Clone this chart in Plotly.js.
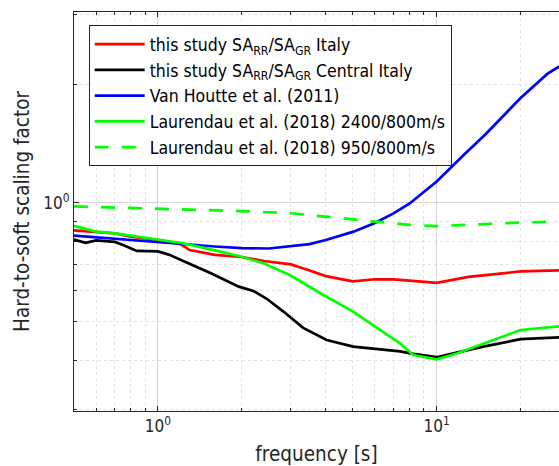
<!DOCTYPE html>
<html>
<head>
<meta charset="utf-8">
<script src="https://cdn.plot.ly/plotly-3.0.1.min.js"></script>
<style>html,body{margin:0;padding:0;background:#fff;overflow:hidden}#chart{width:559px;height:466px}</style>
</head>
<body>
<div id="chart"></div>
<script>
// Series names
var seriesNames = [
  "this study SA<sub>RR</sub>/SA<sub>GR</sub> Italy",
  "this study SA<sub>RR</sub>/SA<sub>GR</sub> Central Italy",
  "Van Houtte et al. (2011)",
  "Laurendau et al. (2018) 2400/800m/s",
  "Laurendau et al. (2018) 950/800m/s"
];

// Red: this study Italy
var freqItaly = [0.5, 0.6, 0.7, 0.8, 1.0, 1.2, 1.3, 1.6, 2.0, 2.4, 3.0, 3.5, 4.0, 5.0, 6.0, 7.0, 10.0, 13.0, 20.0, 30.0];
var valItaly  = [0.852, 0.845, 0.838, 0.822, 0.806, 0.788, 0.760, 0.739, 0.730, 0.713, 0.699, 0.675, 0.653, 0.633, 0.641, 0.641, 0.628, 0.650, 0.671, 0.676];

// Black: this study Central Italy
var freqCentral = [0.5, 0.55, 0.6, 0.7, 0.75, 0.84, 1.0, 1.1, 1.25, 1.55, 1.95, 2.2, 2.45, 2.82, 3.32, 4.03, 5.02, 6.26, 7.39, 8.24, 10.0, 11.8, 14.7, 20.0, 30.0];
var valCentral  = [0.808, 0.793, 0.804, 0.797, 0.783, 0.756, 0.754, 0.739, 0.710, 0.664, 0.614, 0.599, 0.573, 0.531, 0.483, 0.450, 0.433, 0.427, 0.421, 0.415, 0.407, 0.418, 0.433, 0.452, 0.458];

// Blue: Van Houtte et al. (2011)
var freqVH = [0.5, 0.6, 0.7, 0.8, 1.0, 1.3, 1.6, 2.0, 2.5, 3.0, 3.5, 4.0, 5.0, 6.0, 7.0, 8.0, 10.0, 12.5, 15.0, 20.0, 25.0, 30.0];
var valVH  = [0.827, 0.819, 0.812, 0.809, 0.799, 0.785, 0.776, 0.769, 0.767, 0.776, 0.787, 0.806, 0.845, 0.890, 0.941, 0.997, 1.133, 1.323, 1.495, 1.844, 2.125, 2.30];

// Green solid: Laurendau et al. (2018) 2400/800m/s
var freqL2400 = [0.5, 0.6, 0.7, 0.8, 1.0, 1.2, 1.536, 1.95, 2.39, 2.97, 3.92, 5.02, 6.26, 7.39, 8.24, 10.0, 11.8, 14.7, 20.0, 30.0];
var valL2400  = [0.875, 0.846, 0.838, 0.826, 0.806, 0.793, 0.764, 0.734, 0.704, 0.657, 0.585, 0.531, 0.477, 0.441, 0.412, 0.402, 0.416, 0.441, 0.477, 0.490];

// Green dashed: Laurendau et al. (2018) 950/800m/s
var freqL950 = [0.5, 0.7, 1.0, 1.5, 2.0, 3.0, 4.0, 5.0, 6.0, 8.0, 10.0, 15.0, 20.0, 30.0];
var valL950  = [0.980, 0.974, 0.968, 0.960, 0.954, 0.942, 0.924, 0.908, 0.897, 0.880, 0.874, 0.885, 0.892, 0.899];

// Tick labels
var xTickVals = [1, 10];
var xTickText = ["10<sup>0</sup>", "10<sup>1</sup>"];
var yTickVals = [1];
var yTickText = ["10<sup>0</sup>"];
var xMinorVals = [0.5, 0.6, 0.7, 0.8, 0.9, 2, 3, 4, 5, 6, 7, 8, 9, 20, 30];
var yMinorVals = [0.3, 0.4, 0.5, 0.6, 0.7, 0.8, 0.9, 2, 3];

var xTitle = "frequency [s]";
var yTitle = "Hard-to-soft scaling factor";

var colors = ["#ff0000", "#000000", "#0000ff", "#00ff00", "#00ff00"];
var xs = [freqItaly, freqCentral, freqVH, freqL2400, freqL950];
var ys = [valItaly, valCentral, valVH, valL2400, valL950];

var traces = [];
for (var i = 0; i < 5; i++) {
  traces.push({
    x: xs[i], y: ys[i], type: "scatter", mode: "lines", name: seriesNames[i],
    line: {color: colors[i], width: 2.7, dash: i === 4 ? "14px,13px" : "solid"}
  });
}

var axisColor = "#262626";
var fam = "DejaVu Sans Condensed, DejaVu Sans, sans-serif";

var layout = {
  width: 559, height: 466,
  margin: {l: 74, r: 0, t: 12, b: 55, pad: 0},
  paper_bgcolor: "#fff", plot_bgcolor: "#fff",
  font: {family: fam, color: axisColor, size: 17},
  showlegend: true,
  legend: {
    x: 0.0303, y: 0.967, xanchor: "left", yanchor: "top",
    bgcolor: "#fff", bordercolor: axisColor, borderwidth: 1,
    font: {family: fam, size: 17.5, color: "#000"},
    itemwidth: 50, tracegroupgap: 0
  },
  xaxis: {
    type: "log", range: [Math.log10(0.5), 1.4388], autorange: false,
    tickmode: "array", tickvals: xTickVals, ticktext: xTickText,
    ticks: "inside", ticklen: 5, tickcolor: axisColor, tickwidth: 1,
    showline: true, linecolor: axisColor, linewidth: 1, mirror: "ticks",
    showgrid: true, gridcolor: "#d6d6d6", gridwidth: 1,
    zeroline: false,
    tickfont: {family: fam, size: 17, color: axisColor},
    minor: {tickmode: "array", tickvals: xMinorVals, ticks: "inside", ticklen: 3, tickcolor: axisColor,
            showgrid: true, gridcolor: "#e2e2e2", gridwidth: 1, griddash: "dot"},
    title: {text: xTitle, font: {family: fam, size: 20.5, color: axisColor}, standoff: 12}
  },
  yaxis: {
    type: "log", range: [-0.5266, 0.4835], autorange: false,
    tickmode: "array", tickvals: yTickVals, ticktext: yTickText,
    ticks: "inside", ticklen: 5, tickcolor: axisColor, tickwidth: 1,
    showline: true, linecolor: axisColor, linewidth: 1, mirror: false,
    showgrid: true, gridcolor: "#d6d6d6", gridwidth: 1,
    zeroline: false,
    tickfont: {family: fam, size: 17, color: axisColor},
    minor: {tickmode: "array", tickvals: yMinorVals, ticks: "inside", ticklen: 3, tickcolor: axisColor,
            showgrid: true, gridcolor: "#e2e2e2", gridwidth: 1, griddash: "dot"},
    title: {text: yTitle, font: {family: fam, size: 20.5, color: axisColor}, standoff: 8}
  }
};

Plotly.newPlot("chart", traces, layout, {staticPlot: true, displayModeBar: false});
</script>
</body>
</html>
